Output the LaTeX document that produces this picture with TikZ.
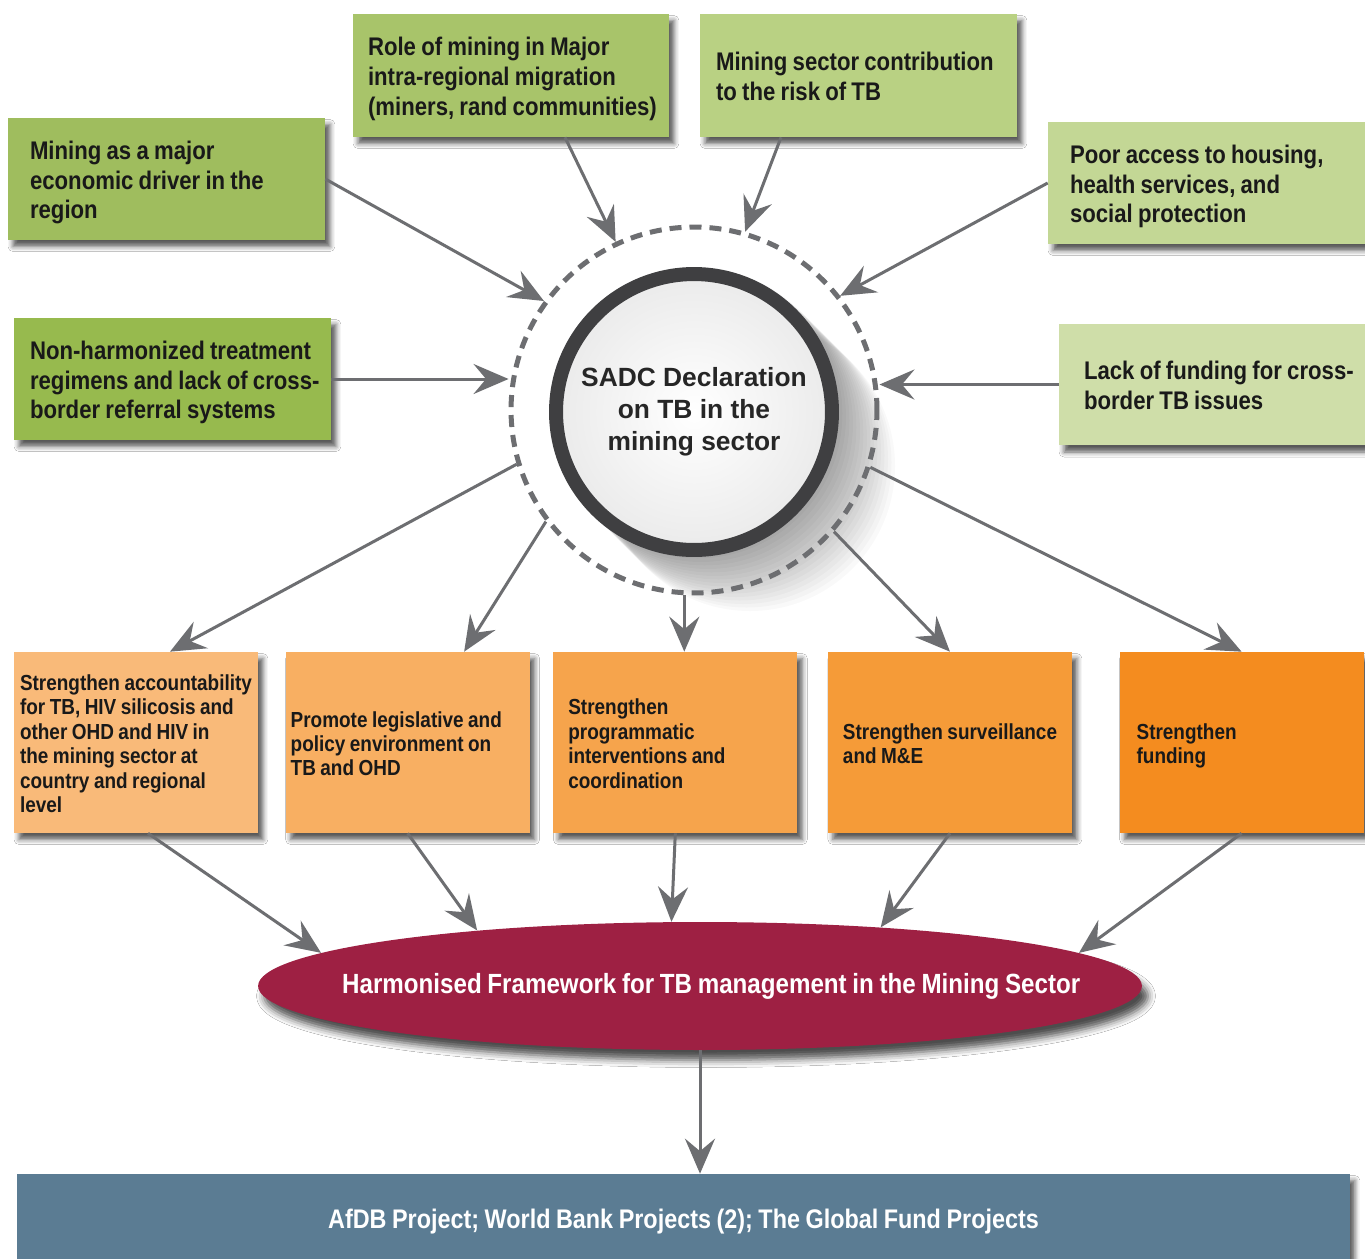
\documentclass[tikz,border=0pt]{standalone}
\usepackage{fontspec}
\setmainfont{Liberation Sans}
\newfontfamily\condfont[FakeStretch=0.87, WordSpace=0.85]{Liberation Sans}
\usepackage{tikz}
\usetikzlibrary{positioning,shapes.geometric,shadows,shadows.blur,arrows.meta}

\definecolor{arrowgray}{HTML}{6D6E71}
\definecolor{ringdark}{HTML}{3F3F41}
\definecolor{grnA}{HTML}{9FBD5E}
\definecolor{grnB}{HTML}{A8C46A}
\definecolor{grnC}{HTML}{B9D183}
\definecolor{grnD}{HTML}{C3D795}
\definecolor{grnE}{HTML}{97BA4E}
\definecolor{grnF}{HTML}{CFDEA9}
\definecolor{orgA}{HTML}{F9BA79}
\definecolor{orgB}{HTML}{F8AF62}
\definecolor{orgC}{HTML}{F6A44C}
\definecolor{orgD}{HTML}{F59B38}
\definecolor{orgE}{HTML}{F48C1F}
\definecolor{harmonred}{HTML}{9E2043}
\definecolor{projblue}{HTML}{5B7C93}

% left set lines in a box of fixed width
\newcommand{\leftlines}[2]{\raisebox{-2.3pt}[\height][\depth]{\makebox[#1][l]{\begin{tabular}{@{}l@{}}#2\end{tabular}}}}

\begin{document}
\begin{tikzpicture}[x=0.02cm, y=-0.02cm,
	>={Stealth[length=0.7cm, width=0.6cm, inset=0.25cm]},
	link/.style={->, color=arrowgray, line width=0.06cm},
	softshadow/.style={blur shadow={shadow xshift=0.1cm, shadow yshift=-0.13cm, shadow blur radius=0.1cm, shadow opacity=65}},
	greenbox/.style={rectangle, minimum width=6.34cm, minimum height=2.44cm, inner sep=0pt, text=black!90,
		font=\condfont\bfseries\fontsize{14.5}{17}\selectfont, softshadow},
	orangebox/.style={rectangle, minimum width=4.88cm, minimum height=3.62cm, inner sep=0pt, text=black!90,
		font=\condfont\bfseries\fontsize{12.4}{13.9}\selectfont, softshadow}]

	\path[use as bounding box, fill=white] (0,0) rectangle (1365,1258);

	% long shadow of the declaration
	\foreach \i in {1,...,16}
		\fill[black, opacity=0.025] ({694+3.5*\i},{410+3.5*\i}) circle[radius=145];

	\node[circle, draw=arrowgray, line width=0.1cm, dash pattern=on 0.24cm off 0.16cm, minimum size=7.32cm, inner sep=0pt] (ring) at (694,410) {};
	\node[circle, draw=ringdark, line width=0.28cm, inner color=white, outer color=black!8, minimum size=5.52cm, inner sep=0pt,
		align=center, text=black!85, font=\bfseries\fontsize{15}{18.2}\selectfont] (sadc) at (694,412) {SADC Declaration\\on TB in the\\mining sector};

	% causes
	\node[greenbox, fill=grnA] (driver) at (166.5,179) {\leftlines{5.46cm}{Mining as a major\\economic driver in the\\region}};
	\node[greenbox, fill=grnB, minimum width=6.32cm, minimum height=2.46cm] (migration) at (511,75.5) {\leftlines{5.72cm}{Role of mining in Major\\intra-regional migration\\(miners, rand communities)}};
	\node[greenbox, fill=grnC, minimum height=2.46cm] (risk) at (858.5,75.5) {\leftlines{5.7cm}{Mining sector contribution\\to the risk of TB}};
	\node[greenbox, fill=grnD] (housing) at (1206.5,183) {\leftlines{5.46cm}{Poor access to housing,\\health services, and\\social protection}};
	\node[greenbox, fill=grnE] (regimens) at (172.5,379) {\leftlines{5.7cm}{Non-harmonized treatment\\regimens and lack of cross-\\border referral systems}};
	\node[greenbox, fill=grnF] (funding) at (1217.5,384.5) {\leftlines{5.34cm}{Lack of funding for cross-\\border TB issues}};

	% actions
	\node[orangebox, fill=orgA] (account) at (136,742.5) {\leftlines{4.64cm}{Strengthen accountability\\for TB, HIV silicosis and\\other OHD and HIV in\\the mining sector at\\country and regional\\level}};
	\node[orangebox, fill=orgB, right=0.54cm of account] (legis) {\leftlines{4.68cm}{Promote legislative and\\policy environment on\\TB and OHD}};
	\node[orangebox, fill=orgC, right=0.46cm of legis] (progr) {\leftlines{4.28cm}{Strengthen\\programmatic\\interventions and\\coordination}};
	\node[orangebox, fill=orgD, right=0.6cm of progr] (surv) {\leftlines{4.28cm}{Strengthen surveillance\\and M\&E}};
	\node[orangebox, fill=orgE, right=0.94cm of surv] (fund) {\leftlines{4.2cm}{Strengthen\\funding}};

	\node[ellipse, fill=harmonred, minimum width=17.68cm, minimum height=2.56cm, inner sep=0pt, text=white,
		font=\condfont\bfseries\fontsize{15.8}{19}\selectfont,
		blur shadow={shadow xshift=0.12cm, shadow yshift=-0.2cm, shadow blur radius=0.15cm, shadow opacity=70}] (harmon) at (700,986)
		{\makebox[0pt]{\hspace{0.45cm}Harmonised Framework for TB management in the Mining Sector}};

	\node[rectangle, fill=projblue, minimum width=26.66cm, minimum height=1.92cm, text=white,
		font=\condfont\bfseries\fontsize{15.3}{19}\selectfont, softshadow] (projects) at (683.5,1222)
		{AfDB Project; World Bank Projects (2); The Global Fund Projects};

	\path[link] (driver.east) edge (ring.144)
		([xshift=1.08cm]migration.south) edge (ring.115)
		([xshift=-1.55cm]risk.south) edge (ring.74)
		(housing.west) edge (ring.38)
		(regimens.east) edge (regimens.east -| ring.west)
		(funding.west) edge (funding.west -| ring.east);

	\path[link] (ring.197) edge ([xshift=0.68cm]account.north)
		(ring.217) edge ([xshift=1.13cm]legis.north)
		(ring.267) edge (ring.267 |- progr.north)
		(ring.319) edge (surv.north)
		(ring.342) edge (fund.north);

	\path[link] ([xshift=0.24cm]account.south) edge (harmon.175)
		(legis.south) edge (harmon.166)
		(progr.south) edge (harmon.114)
		(surv.south) edge (harmon.18)
		(fund.south) edge (harmon.5)
		(harmon.south) edge (harmon.south |- projects.north);

\end{tikzpicture}
\end{document}
